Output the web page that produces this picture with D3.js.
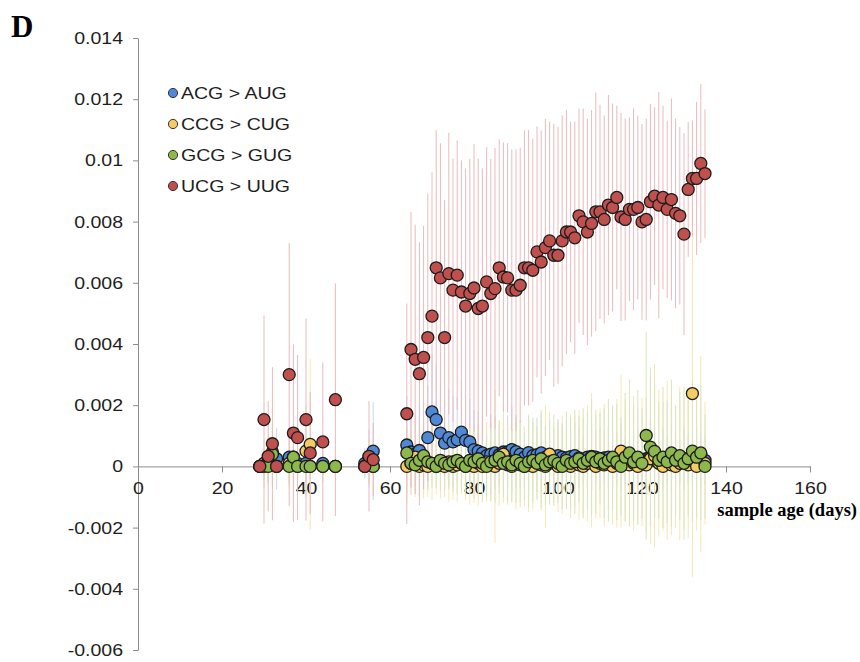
<!DOCTYPE html>
<html>
<head>
<meta charset="utf-8">
<script src="https://cdn.jsdelivr.net/npm/d3@7"></script>
<style>
    body { margin: 0; background: #fff; }
    svg { display: block; }
</style>
</head>
<body>
<script>
///////////////////   Data   /////////////////

// sample ages (days): an early sparse group, then one sample a day from 64 to 135
var days = [29, 30, 31, 32, 33, 36, 37, 38, 40, 41, 44, 47, 54, 55, 56,
    64, 65, 66, 67, 68, 69, 70, 71, 72, 73,
    74, 75, 76, 77, 78, 79, 80, 81, 82, 83,
    84, 85, 86, 87, 88, 89, 90, 91, 92, 93,
    94, 95, 96, 97, 98, 99, 100, 101, 102, 103,
    104, 105, 106, 107, 108, 109, 110, 111, 112, 113,
    114, 115, 116, 117, 118, 119, 120, 121, 122, 123,
    124, 125, 126, 127, 128, 129, 130, 131, 132, 133,
    134, 135];

var seriesNames = ["ACG > AUG", "CCG > CUG", "GCG > GUG", "UCG > UUG"];

// ACG > AUG
var acgValues = [0, 0.0001, 0.0001, 0.0002, 0.00025, 0.0003, 0.0003, 0.0001, 0.0001, 0, 0.0001, 0, 0.0001, 0.0003, 0.0005,
    0.00070, 0.00047, 0.00040, 0.00052, 0.00030, 0.00094, 0.00178, 0.00153, 0.00109, 0.00076,
    0.00094, 0.00080, 0.00087, 0.00112, 0.00085, 0.00080, 0.00055, 0.00050, 0.00044, 0.00035,
    0.00040, 0.00044, 0.00038, 0.00047, 0.00047, 0.00055, 0.00048, 0.00040, 0.00030, 0.00045,
    0.00035, 0.00038, 0.00044, 0.00030, 0.00032, 0.00025, 0.00035, 0.00030, 0.00028, 0.00032,
    0.00035, 0.00028, 0.00020, 0.00030, 0.00033, 0.00030, 0.00025, 0.00028, 0.00030, 0.00022,
    0.00025, 0.00030, 0.00020, 0.00015, 0.00020, 0.00025, 0.00018, 0.00025, 0.00030, 0.00020,
    0.00015, 0.00025, 0.00018, 0.00030, 0.00022, 0.00015, 0.00025, 0.00020, 0.00015, 0.00025,
    0.00018, 0.00020];
var acgErrors = [0, 0.0005, 0.0006, 0.0008, 0.0010, 0.0009, 0.0008, 0.0005, 0.0006, 0.0004, 0.0005, 0.0003, 0.0005, 0.0009, 0.0016,
    0.0016, 0.0014, 0.0013, 0.0015, 0.0012, 0.0017, 0.0019, 0.0018, 0.0016, 0.0014,
    0.0016, 0.0015, 0.0014, 0.0017, 0.0015, 0.0014, 0.0013, 0.0013, 0.0012, 0.0011,
    0.0013, 0.0012, 0.0010, 0.0013, 0.0012, 0.0014, 0.0012, 0.0011, 0.0010, 0.0012,
    0.0011, 0.0012, 0.0013, 0.0010, 0.0011, 0.0010, 0.0012, 0.0011, 0.0010, 0.0009,
    0.0011, 0.0010, 0.0008, 0.0010, 0.0011, 0.0009, 0.0010, 0.0009, 0.0010, 0.0008,
    0.0009, 0.0011, 0.0008, 0.0007, 0.0009, 0.0010, 0.0008, 0.0009, 0.0012, 0.0008,
    0.0007, 0.0010, 0.0008, 0.0011, 0.0009, 0.0007, 0.0010, 0.0008, 0.0007, 0.0010,
    0.0009, 0.0008];

// CCG > CUG
var ccgValues = [0, 0.0001, 0.0002, 0.00047, 0, 0.0001, 0.0001, 0, 0.0005, 0.00072, 0, 0, 0, 0.0001, 0,
    0, 0.0001, 0.0003, 0, 0.00005, 0, 0.0001, 0, 0.00005, 0,
    0.00015, 0, 0.00005, 0.0001, 0, 0.00005, 0, 0.0001, 0, 0.00015,
    0.00005, 0, 0.0001, 0.0004, 0.00005, 0, 0.0001, 0.00005, 0, 0.0001,
    0, 0.00015, 0.00005, 0, 0.0004, 0.0001, 0, 0.00005, 0.0001, 0,
    0.00015, 0.00005, 0, 0.0001, 0.0002, 0, 0.0001, 0.00005, 0.00015, 0,
    0.0001, 0.0005, 0.0002, 0.00005, 0.0001, 0, 0.00015, 0.00005, 0.00025, 0.00035,
    0.0001, 0, 0.0002, 0.00005, 0, 0.0001, 0.00015, 0.00005, 0.00238, 0,
    0.00041, 0.0001];
var ccgErrors = [0, 0.0008, 0.0008, 0.0012, 0, 0.0008, 0.0008, 0, 0.0015, 0.0028, 0, 0, 0, 0.0008, 0,
    0.0012, 0.0010, 0.0013, 0.0009, 0.0011, 0.0010, 0.0012, 0.0009, 0.0011, 0.0010,
    0.0013, 0.0011, 0.0012, 0.0010, 0.0011, 0.0013, 0.0012, 0.0014, 0.0012, 0.0013,
    0.0012, 0.0025, 0.0014, 0.0016, 0.0013, 0.0012, 0.0015, 0.0014, 0.0013, 0.0016,
    0.0014, 0.0012, 0.0015, 0.0020, 0.0014, 0.0013, 0.0015, 0.0016, 0.0014, 0.0017,
    0.0015, 0.0018, 0.0016, 0.0019, 0.0022, 0.0017, 0.0018, 0.0020, 0.0016, 0.0019,
    0.0021, 0.0025, 0.0020, 0.0018, 0.0022, 0.0019, 0.0021, 0.0022, 0.0028, 0.0030,
    0.0024, 0.0021, 0.0026, 0.0023, 0.0020, 0.0025, 0.0022, 0.0024, 0.0060, 0.0021,
    0.0032, 0.0020];

// GCG > GUG
var gcgValues = [0, 0, 0, 0.0004, 0, 0, 0.0003, 0, 0, 0, 0, 0, 0, 0.0001, 0,
    0.00044, 0.0001, 0.00005, 0.0002, 0.00035, 0.00015, 0.0001, 0, 0.0002, 0.0001,
    0.00005, 0.00015, 0.0002, 0.0001, 0, 0.0002, 0.00015, 0.00025, 0.0001, 0,
    0.00015, 0.0002, 0.0003, 0.0001, 0.00015, 0.00005, 0.0002, 0.0001, 0, 0.00015,
    0.0002, 0.0001, 0.00025, 0.00005, 0.00015, 0.0002, 0.0001, 0, 0.0002, 0.0001,
    0.00015, 0.00025, 0.0001, 0.0002, 0.0003, 0.00015, 0.00025, 0.0001, 0.0002, 0.0003,
    0.00015, 0, 0.0003, 0.00044, 0.00015, 0.0003, 0.0001, 0.00101, 0.00063, 0.00049,
    0.0002, 0.0003, 0.00015, 0.00044, 0.0002, 0.00035, 0.0001, 0.00025, 0.0005, 0.0003,
    0.00044, 0];
var gcgErrors = [0, 0.0004, 0.0005, 0.0009, 0.0004, 0.0005, 0.0008, 0.0004, 0.0005, 0.0004, 0.0005, 0.0004, 0.0003, 0.0006, 0.0004,
    0.0009, 0.0008, 0.0007, 0.0010, 0.0011, 0.0009, 0.0008, 0.0007, 0.0010, 0.0009,
    0.0008, 0.0010, 0.0011, 0.0009, 0.0008, 0.0010, 0.0012, 0.0011, 0.0012, 0.0010,
    0.0013, 0.0014, 0.0012, 0.0011, 0.0013, 0.0012, 0.0014, 0.0013, 0.0011, 0.0015,
    0.0014, 0.0012, 0.0016, 0.0013, 0.0014, 0.0015, 0.0013, 0.0014, 0.0016, 0.0015,
    0.0017, 0.0014, 0.0018, 0.0016, 0.0019, 0.0017, 0.0015, 0.0018, 0.0020, 0.0017,
    0.0019, 0.0016, 0.0021, 0.0024, 0.0019, 0.0022, 0.0018, 0.0034, 0.0026, 0.0022,
    0.0019, 0.0023, 0.0020, 0.0024, 0.0018, 0.0021, 0.0025, 0.0019, 0.0023, 0.0020,
    0.0022, 0.0017];

// UCG > UUG
var ucgValues = [0, 0.00153, 0.00033, 0.00074, 0, 0.0030, 0.00109, 0.00094, 0.00153, 0.00044, 0.00080, 0.00218, 0, 0.00033, 0.00022,
    0.00172, 0.00382, 0.00350, 0.00303, 0.00356, 0.00421, 0.00491, 0.00649, 0.00616, 0.00421,
    0.00630, 0.00576, 0.00625, 0.00570, 0.00524, 0.00565, 0.00583, 0.00516, 0.00524, 0.00603,
    0.00565, 0.00581, 0.00649, 0.00619, 0.00616, 0.00576, 0.00576, 0.00592, 0.00649, 0.00649,
    0.00641, 0.00701, 0.00668, 0.00715, 0.00737, 0.00690, 0.00690, 0.00737, 0.00766, 0.00766,
    0.00747, 0.00819, 0.00799, 0.00766, 0.00794, 0.00832, 0.00832, 0.00807, 0.00854, 0.00846,
    0.00879, 0.00815, 0.00807, 0.00840, 0.00840, 0.00846, 0.00799, 0.00807, 0.00865, 0.00883,
    0.00854, 0.00879, 0.00840, 0.00872, 0.00827, 0.00819, 0.00759, 0.00905, 0.00941, 0.00941,
    0.00990, 0.00957];
var ucgErrors = [0, 0.0034, 0.0018, 0.0025, 0, 0.0043, 0.0029, 0.0027, 0.0033, 0.0020, 0.0026, 0.0038, 0, 0.0018, 0.0012,
    0.0036, 0.0045, 0.0044, 0.0043, 0.0043, 0.0047, 0.0047, 0.0045, 0.0044, 0.0045,
    0.0046, 0.0043, 0.0044, 0.0043, 0.0045, 0.0044, 0.0047, 0.0049, 0.0045, 0.0044,
    0.0044, 0.0046, 0.0042, 0.0044, 0.0044, 0.0046, 0.0046, 0.0045, 0.0045, 0.0045,
    0.0043, 0.0041, 0.0043, 0.0042, 0.0039, 0.0043, 0.0042, 0.0041, 0.0040, 0.0036,
    0.0038, 0.0035, 0.0037, 0.0037, 0.0037, 0.0039, 0.0035, 0.0034, 0.0036, 0.0034,
    0.0030, 0.0034, 0.0033, 0.0030, 0.0033, 0.0030, 0.0032, 0.0033, 0.0032, 0.0029,
    0.0037, 0.0030, 0.0029, 0.0033, 0.0031, 0.0029, 0.0033, 0.0022, 0.0019, 0.0025,
    0.0026, 0.0021];

// axes
var xTicks = [0, 20, 40, 60, 80, 100, 120, 140, 160];
var xTickLabels = ["0", "20", "40", "60", "80", "100", "120", "140", "160"];
var yTicks = [-0.006, -0.004, -0.002, 0, 0.002, 0.004, 0.006, 0.008, 0.01, 0.012, 0.014];
var yTickLabels = ["-0.006", "-0.004", "-0.002", "0", "0.002", "0.004", "0.006", "0.008", "0.01", "0.012", "0.014"];

///////////////////   Style   /////////////////

var width = 860,
    height = 662,
    plotLeft = 138,
    plotRight = 810,
    plotTop = 38,
    plotBottom = 650,
    markerRadius = 6,
    textStretch = 1.15;   // the sans labels in the picture are a bit wider than Helvetica

var sansFont = "'Liberation Sans', Arial, Helvetica, sans-serif",
    serifFont = "'Liberation Serif', 'Times New Roman', serif";

var colors = {
    "axis": "#8c8c8c",
    "text": "#1e1e1e",
    "outline": "#1c1c1c"
};

var seriesFill = ["#4e88d6", "#f5cb62", "#8db84c", "#c0504d"];
var seriesBar = ["#c8d7ef", "#f8e6b2", "#d8e5bc", "#ebbabc"];

var series = [
    {name: seriesNames[0], values: acgValues, errors: acgErrors, fill: seriesFill[0], bar: seriesBar[0]},
    {name: seriesNames[1], values: ccgValues, errors: ccgErrors, fill: seriesFill[1], bar: seriesBar[1]},
    {name: seriesNames[2], values: gcgValues, errors: gcgErrors, fill: seriesFill[2], bar: seriesBar[2]},
    {name: seriesNames[3], values: ucgValues, errors: ucgErrors, fill: seriesFill[3], bar: seriesBar[3]}
];

///////////////////   Drawing   /////////////////

var svg = d3.select("body").append("svg")
    .attr("width", width)
    .attr("height", height);

var x = d3.scaleLinear().domain([0, 160]).range([plotLeft, plotRight]);
var y = d3.scaleLinear().domain([-0.006, 0.014]).range([plotBottom, plotTop]);

// y axis
var yAxis = svg.append("g")
    .attr("transform", "translate(" + plotLeft + ",0)")
    .call(d3.axisLeft(y)
        .tickValues(yTicks)
        .tickFormat(function(d) { return yTickLabels[yTicks.indexOf(d)]; })
        .tickSize(5)
        .tickSizeOuter(0));

// x axis sits on zero
var xAxis = svg.append("g")
    .attr("transform", "translate(0," + y(0) + ")")
    .call(d3.axisBottom(x)
        .tickValues(xTicks)
        .tickFormat(function(d) { return xTickLabels[xTicks.indexOf(d)]; })
        .tickSize(6)
        .tickSizeOuter(0));

[yAxis, xAxis].forEach(function(g) {
    g.select(".domain").attr("stroke", colors.axis);
    g.selectAll(".tick line").attr("stroke", colors.axis);
    g.selectAll(".tick text")
        .attr("fill", colors.text)
        .style("font-family", sansFont)
        .style("font-size", "17px")
        .attr("transform", "scale(" + textStretch + ",1)");
});
yAxis.selectAll(".tick text").attr("x", -13);
xAxis.selectAll(".tick text").attr("y", 16);

// error bars, all series, under the markers
series.forEach(function(s) {
    var pts = days.map(function(d, i) { return {day: d, v: s.values[i], e: s.errors[i]}; })
        .filter(function(p) { return p.e > 0; });
    svg.append("g")
        .selectAll("line")
        .data(pts)
    .enter()
    .append("line")
        .attr("x1", function(p) { return x(p.day); })
        .attr("x2", function(p) { return x(p.day); })
        .attr("y1", function(p) { return y(p.v - p.e); })
        .attr("y2", function(p) { return y(p.v + p.e); })
        .attr("stroke", s.bar)
        .attr("stroke-width", 1);
});

// markers, drawn in legend order (red ends up on top)
series.forEach(function(s) {
    svg.append("g")
        .selectAll("circle")
        .data(days.map(function(d, i) { return {day: d, v: s.values[i]}; }))
    .enter()
    .append("circle")
        .attr("cx", function(p) { return x(p.day); })
        .attr("cy", function(p) { return y(p.v); })
        .attr("r", markerRadius)
        .attr("fill", s.fill)
        .attr("stroke", colors.outline)
        .attr("stroke-width", 1.3);
});

// legend
var legend = svg.append("g")
    .selectAll("g")
    .data(series)
.enter()
.append("g")
    .attr("transform", function(d, i) { return "translate(173," + (93 + i * 31) + ")"; });

legend.append("circle")
    .attr("r", 4.6)
    .attr("fill", function(d) { return d.fill; })
    .attr("stroke", "#333")
    .attr("stroke-width", 1);

legend.append("text")
    .attr("transform", "translate(8,0) scale(" + textStretch + ",1)")
    .attr("dy", "0.36em")
    .attr("fill", colors.text)
    .style("font-family", sansFont)
    .style("font-size", "17px")
    .text(function(d) { return d.name; });

// axis title
svg.append("text")
    .attr("x", 857)
    .attr("y", 516)
    .attr("text-anchor", "end")
    .attr("fill", "#000")
    .style("font-family", serifFont)
    .style("font-weight", "bold")
    .style("font-size", "18.5px")
    .text("sample age (days)");

// panel letter
svg.append("text")
    .attr("x", 11)
    .attr("y", 37)
    .attr("fill", "#000")
    .style("font-family", serifFont)
    .style("font-weight", "bold")
    .style("font-size", "31px")
    .text("D");
</script>
</body>
</html>
